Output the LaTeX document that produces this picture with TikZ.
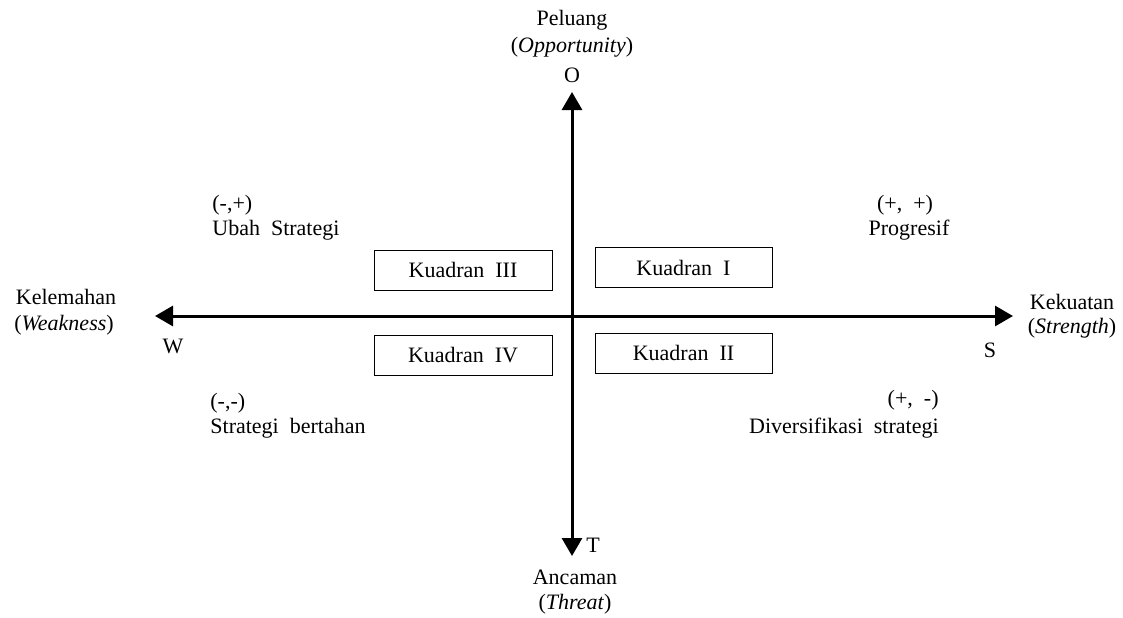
\documentclass[tikz,border=0pt]{standalone}
\usepackage{fontspec}
\setmainfont{Liberation Serif}
\usetikzlibrary{arrows.meta}
\tikzset{
  axis/.style={line width=1.5pt,{Triangle[length=9pt,width=10pt]}-{Triangle[length=9pt,width=10pt]}},
  kbox/.style={draw,line width=0.5pt,minimum width=89pt,minimum height=20pt,inner sep=0pt},
  lbl/.style={inner sep=0pt,align=center},
}
\begin{document}
\begin{tikzpicture}[x=0.5pt,y=-0.5pt,font=\fontsize{11}{13}\selectfont] %Matriks SWOT
  \useasboundingbox (0,0) rectangle (1123,617);
  % sumbu
  \coordinate (wTip) at (155,316);
  \coordinate (sTip) at (1013,316);
  \coordinate (oTip) at (572,92);
  \coordinate (tTip) at (572,556);
  \draw[axis] (wTip) -- (sTip);
  \draw[axis] (tTip) -- (oTip);

  % label sumbu
  \node[lbl] (peluang) at (572,20) {Peluang};
  \node[lbl] (opp) at (572,47) {(\textit{Opportunity})};
  \node[lbl] (oLbl) at (572,75) {O};
  \node[lbl] (lemah) at (66,297) {Kelemahan};
  \node[lbl] (weak) at (64,325) {(\textit{Weakness})};
  \node[lbl] (wLbl) at (173,346) {W};
  \node[lbl] (kuat) at (1072,302) {Kekuatan};
  \node[lbl] (str) at (1072,328) {(\textit{Strength})};
  \node[lbl] (sLbl) at (990,350) {S};
  \node[lbl] (tLbl) at (593,545) {T};
  \node[lbl] (ancam) at (575,577) {Ancaman};
  \node[lbl] (thr) at (575,604) {(\textit{Threat})};

  % kuadran
  \node[kbox] (k3) at (463,270) {Kuadran\ \ III};
  \node[kbox,minimum width=88.5pt] (k1) at (683.5,267.5) {Kuadran\ \ I};
  \node[kbox] (k4) at (463,355) {Kuadran\ \ IV};
  \node[kbox,minimum width=88.5pt] (k2) at (683.5,353) {Kuadran\ \ II};

  % strategi
  \node[lbl,anchor=west] (q3a) at (212,205) {(-,+)};
  \node[lbl,anchor=west] (q3b) at (212,230) {Ubah\ \ Strategi};
  \node[lbl] (q1a) at (905,205) {(+,\ \ +)};
  \node[lbl] (q1b) at (909,230) {Progresif};
  \node[lbl,anchor=west] (q4a) at (210,403) {(-,-)};
  \node[lbl,anchor=west] (q4b) at (210,428) {Strategi\ \ bertahan};
  \node[lbl,anchor=east] (q2a) at (939,400) {(+,\ \ -)};
  \node[lbl,anchor=east] (q2b) at (939,428) {Diversifikasi\ \ strategi};
\end{tikzpicture}
\end{document}
